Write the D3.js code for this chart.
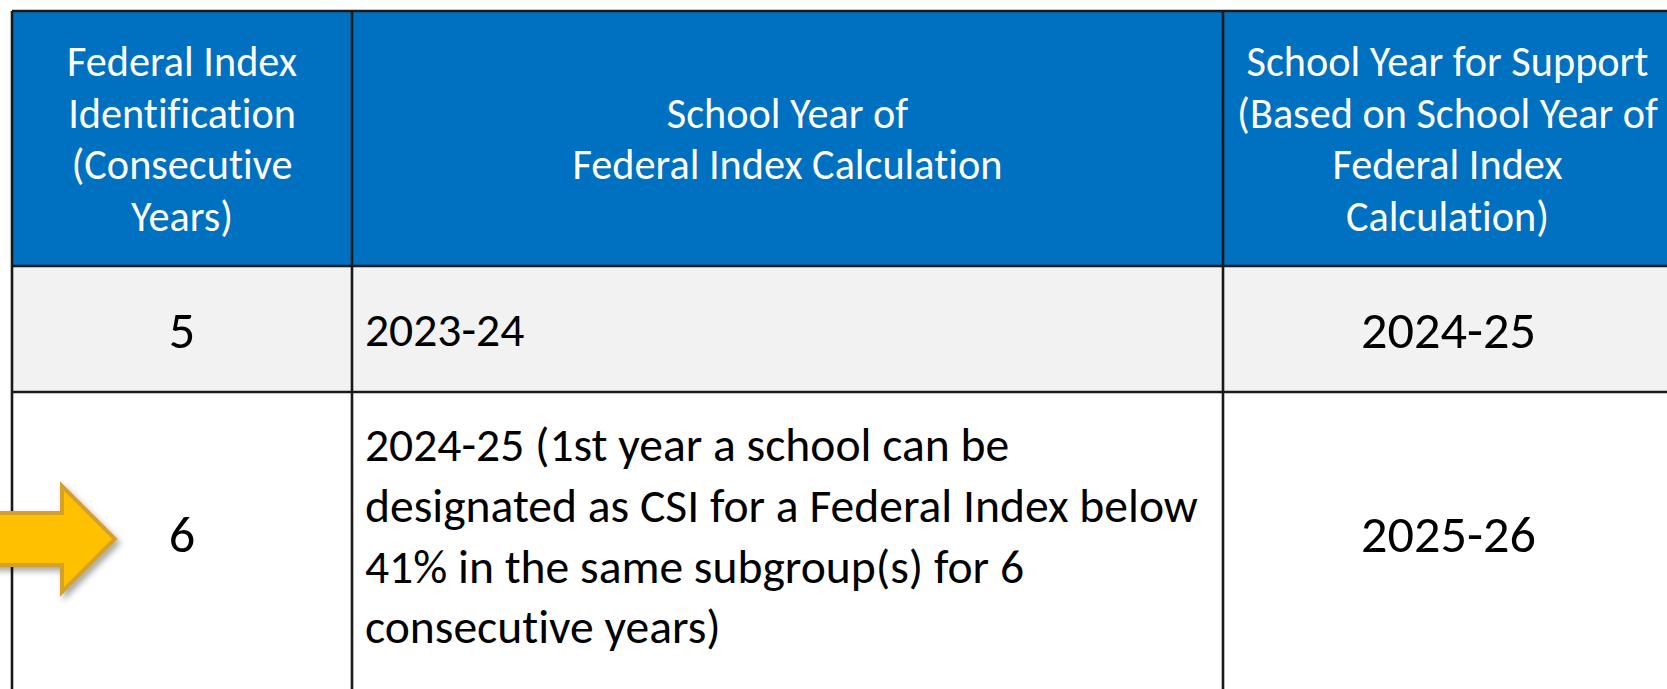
<!DOCTYPE html>
<html>
<head>
<meta charset="utf-8">
<script src="https://cdn.jsdelivr.net/npm/d3@7/dist/d3.min.js"></script>
<style>
  html, body { margin: 0; padding: 0; background: #ffffff; overflow: hidden; }
  svg { display: block; }
  text { font-family: Calibri, Carlito, Lato, "Open Sans", sans-serif; font-variant-ligatures: none; font-feature-settings: "liga" 0, "clig" 0; }
</style>
</head>
<body>
<svg id="chart" width="1667" height="689"></svg>
<script>
// ---------------- data ----------------
const columns = ["id", "calc", "support"];
const headerLines = [
  ["Federal Index", "Identification", "(Consecutive", "Years)"],
  ["School Year of", "Federal Index Calculation"],
  ["School Year for Support", "(Based on School Year of", "Federal Index", "Calculation)"]
];
const rowIds = ["5", "6"];
const calcYears = [
  ["2023-24"],
  ["2024-25 (1st year a school can be", "designated as CSI for a Federal Index below", "41% in the same subgroup(s) for 6", "consecutive years)"]
];
const supportYears = ["2024-25", "2025-26"];
const highlightedRow = "6";

// ---------------- layout ----------------
const svg = d3.select("#chart");

const colX = d3.scaleOrdinal().domain(columns).range([12, 352, 1223]);
const colEnd = d3.scaleOrdinal().domain(columns).range([352, 1223, 1676]);
const rowKeys = ["header"].concat(rowIds);
const rowY = d3.scaleOrdinal().domain(rowKeys).range([11, 266, 392]);
const rowEnd = d3.scaleOrdinal().domain(rowKeys).range([266, 392, 700]);
const rowFill = d3.scaleOrdinal().domain(rowKeys).range(["#0070C0", "#F2F2F2", "#FFFFFF"]);

const FONT = "Calibri, Carlito, Lato, 'Open Sans', sans-serif";

function measure(str, size) {
  const t = svg.append("text").attr("font-size", size).attr("font-family", FONT).text(str);
  const w = t.node().getComputedTextLength();
  t.remove();
  return w;
}
const headerSize = 100 * 430 / measure("Federal Index Calculation", 100);
const smallSize = 100 * 833 / measure("designated as CSI for a Federal Index below", 100);
const bigSize = 100 * 175 / measure("2024-25", 100);

// ---------------- cells ----------------
const cells = [];
rowKeys.forEach(r => columns.forEach(c => cells.push({ r, c })));

svg.append("g").selectAll("rect").data(cells).join("rect")
  .attr("x", d => colX(d.c))
  .attr("y", d => rowY(d.r))
  .attr("width", d => colEnd(d.c) - colX(d.c))
  .attr("height", d => rowEnd(d.r) - rowY(d.r))
  .attr("fill", d => rowFill(d.r));

// ---------------- grid lines ----------------
const gridG = svg.append("g").attr("stroke", "#1a1a1a").attr("stroke-width", 2.6);
const vEdges = [colX("id"), colX("calc"), colX("support"), colEnd("support")];
gridG.selectAll("line.v").data(vEdges).join("line").attr("class", "v")
  .attr("x1", d => d).attr("x2", d => d)
  .attr("y1", rowY("header")).attr("y2", rowEnd(rowIds[rowIds.length - 1]));
const hEdges = [rowY("header"), rowEnd("header"), rowEnd(rowIds[0]), rowEnd(rowIds[1])];
gridG.selectAll("line.h").data(hEdges).join("line").attr("class", "h")
  .attr("y1", d => d).attr("y2", d => d)
  .attr("x1", colX("id")).attr("x2", colEnd("support"));

// ---------------- header text ----------------
const headerLH = 51.7;
const headerMid = 153.5;
const hg = svg.append("g").attr("fill", "#FFFFFF").attr("font-size", headerSize).attr("text-anchor", "middle");
columns.forEach((c, ci) => {
  const lines = headerLines[ci];
  const cx = (colX(c) + colEnd(c)) / 2 + (c === "support" ? -2 : 0);
  hg.append("text").selectAll("tspan").data(lines).join("tspan")
    .attr("x", cx)
    .attr("y", (d, i) => headerMid + (i - (lines.length - 1) / 2) * headerLH)
    .text(d => d);
});

// ---------------- body text ----------------
const bodyG = svg.append("g").attr("fill", "#000000");
const bigBaseline = d3.scaleOrdinal().domain(rowIds).range([347.5, 552]);

bodyG.selectAll("text.id").data(rowIds).join("text").attr("class", "id")
  .attr("x", (colX("id") + colEnd("id")) / 2)
  .attr("y", d => bigBaseline(d))
  .attr("text-anchor", "middle")
  .attr("font-size", bigSize)
  .text(d => d);

bodyG.selectAll("text.sup").data(supportYears).join("text").attr("class", "sup")
  .attr("x", (colX("support") + colEnd("support")) / 2 - 1)
  .attr("y", (d, i) => bigBaseline(rowIds[i]))
  .attr("text-anchor", "middle")
  .attr("font-size", bigSize)
  .text(d => d);

const calcFirstBaseline = d3.scaleOrdinal().domain(rowIds).range([346, 461]);
const calcLH = 60.8;
calcYears.forEach((lines, i) => {
  bodyG.append("text")
    .attr("font-size", smallSize)
    .selectAll("tspan").data(lines).join("tspan")
    .attr("x", colX("calc") + 13)
    .attr("y", (d, j) => calcFirstBaseline(rowIds[i]) + j * calcLH)
    .text(d => d);
});

// ---------------- highlight arrow ----------------
const defs = svg.append("defs");
const f = defs.append("filter").attr("id", "shadow").attr("x", "-30%").attr("y", "-30%").attr("width", "160%").attr("height", "160%");
f.append("feDropShadow").attr("dx", 3).attr("dy", 4).attr("stdDeviation", 3)
  .attr("flood-color", "#000").attr("flood-opacity", 0.35);

const ay = 539;        // arrow axis, aligned to the highlighted row's text
const tipX = 115, headX = 62, tailX = -20;
const headHalf = 53, shaftHalf = 26;
const arrowPts = [
  [tailX, ay - shaftHalf], [headX, ay - shaftHalf], [headX, ay - headHalf],
  [tipX, ay], [headX, ay + headHalf], [headX, ay + shaftHalf], [tailX, ay + shaftHalf]
];
svg.append("path")
  .attr("class", "arrow-" + highlightedRow)
  .attr("d", d3.line()(arrowPts) + "Z")
  .attr("fill", "#FFC000")
  .attr("stroke", "#D4A22C")
  .attr("stroke-width", 4)
  .attr("stroke-linejoin", "miter")
  .attr("filter", "url(#shadow)");
</script>
</body>
</html>
